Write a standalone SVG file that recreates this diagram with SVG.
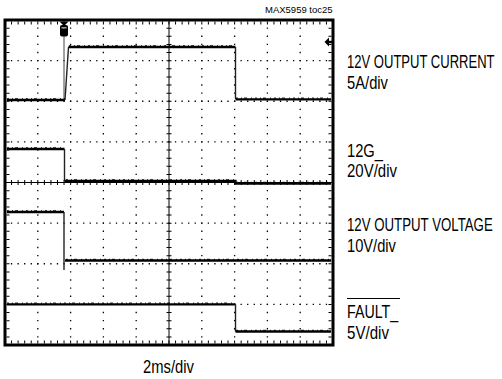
<svg xmlns="http://www.w3.org/2000/svg" width="502" height="379" viewBox="0 0 502 379">
<style>
.frame{fill:none;stroke:#000;stroke-width:3}
.hdot{stroke:#000;stroke-width:1.3;stroke-dasharray:1.3 5.26;stroke-dashoffset:0.65}
.vdot{stroke:#000;stroke-width:1.3;stroke-dasharray:1.3 6.825;stroke-dashoffset:0.65}
.axis{stroke:#000;stroke-width:1}
.htick{stroke:#000;stroke-dasharray:1 5.56;stroke-dashoffset:0.5}
.vtick{stroke:#000;stroke-dasharray:1 7.125;stroke-dashoffset:0.5}
.tr{fill:none;stroke:#000;stroke-width:2.3;stroke-linejoin:miter}
.rough{fill:none;stroke:#000;stroke-width:1;stroke-dasharray:2 3 1 2 3 4 1 3}
.edge{fill:none;stroke:#222;stroke-width:1.4}
.lbl{font-family:"Liberation Sans",Arial,sans-serif;font-size:17.5px;fill:#000}
.small{font-family:"Liberation Sans",Arial,sans-serif;font-size:9.5px;fill:#000}
</style>
<rect width="502" height="379" fill="#fff"/>
<g id="grid">
<g class="hdot">
<line x1="5" y1="60.6" x2="333" y2="60.6"/>
<line x1="5" y1="101.25" x2="333" y2="101.25"/>
<line x1="5" y1="141.9" x2="333" y2="141.9"/>
<line x1="5" y1="223.1" x2="333" y2="223.1"/>
<line x1="5" y1="263.75" x2="333" y2="263.75"/>
<line x1="5" y1="304.4" x2="333" y2="304.4"/>
</g>
<g class="vdot">
<line x1="37.8" y1="20" x2="37.8" y2="345"/>
<line x1="70.6" y1="20" x2="70.6" y2="345"/>
<line x1="103.4" y1="20" x2="103.4" y2="345"/>
<line x1="136.2" y1="20" x2="136.2" y2="345"/>
<line x1="201.8" y1="20" x2="201.8" y2="345"/>
<line x1="234.6" y1="20" x2="234.6" y2="345"/>
<line x1="267.4" y1="20" x2="267.4" y2="345"/>
<line x1="300.2" y1="20" x2="300.2" y2="345"/>
</g>
<line class="axis" x1="5" y1="182.5" x2="333" y2="182.5"/>
<line class="axis" x1="169" y1="20" x2="169" y2="345"/>
<line class="htick" x1="5" y1="182.5" x2="333" y2="182.5" stroke-width="5"/>
<line class="vtick" x1="169" y1="20" x2="169" y2="345" stroke-width="5"/>
<line class="htick" x1="5" y1="23" x2="333" y2="23" stroke-width="3"/>
<line class="htick" x1="5" y1="342" x2="333" y2="342" stroke-width="3"/>
<line class="vtick" x1="8" y1="20" x2="8" y2="345" stroke-width="3"/>
<line class="vtick" x1="330" y1="20" x2="330" y2="345" stroke-width="3"/>
<rect class="frame" x="5" y="20" width="328" height="325"/>
</g>
<g id="markers">
<polygon points="59.5,21.5 68.5,21.5 64,26" fill="#000"/>
<rect x="60" y="25" width="8" height="11.5" rx="2" fill="#000"/>
<rect x="61.5" y="27" width="5" height="1.6" fill="#999"/>
<line x1="64" y1="36" x2="64" y2="100" stroke="#444" stroke-width="1"/>
<polygon points="324.5,42 329,37.5 329,46.5" fill="#000"/>
<rect x="329" y="40.8" width="3" height="2.4" fill="#000"/>
</g>
<g id="traces">
<g id="trace-current">
<path class="tr" d="M7,100 H65"/>
<path class="edge" d="M65,100 L68.5,47"/>
<path class="tr" d="M68.5,47 H235.5"/>
<path class="edge" d="M235.5,47 V99"/>
<path class="tr" d="M235.5,99.3 H331"/>
<path class="rough" d="M7,98.8 H65 M69,45.8 H235 M236,98.1 H331"/>
</g>
<g id="trace-12g">
<path class="tr" d="M7,149 H64.5"/>
<path class="edge" d="M64.5,149 V181"/>
<path class="tr" d="M64.5,181 H235.5 V183.5 H331"/>
<path class="rough" d="M7,147.8 H64 M66,179.8 H235 M236,182.3 H331"/>
</g>
<g id="trace-vout">
<path class="tr" d="M7,212 H64"/>
<path class="edge" d="M64,212 V270"/>
<path class="tr" d="M65,260.5 H331"/>
<path class="rough" d="M7,210.8 H64 M66,259.3 H331"/>
</g>
<g id="trace-fault">
<path class="tr" d="M7,304.3 H235.5"/>
<path class="edge" d="M235.5,304.3 V331.5"/>
<path class="tr" d="M235.5,331.5 H331"/>
<path class="rough" d="M7,303.1 H235 M236,330.3 H331"/>
</g>
</g>
<g id="labels">
<text class="small" x="265" y="13">MAX5959 toc25</text>
<text class="lbl" transform="translate(347,68) scale(0.746,1)">12V OUTPUT CURRENT</text>
<text class="lbl" transform="translate(347,89) scale(0.843,1)">5A/div</text>
<text class="lbl" transform="translate(347,157) scale(0.841,1)">12G_</text>
<text class="lbl" transform="translate(347,177) scale(0.857,1)">20V/div</text>
<text class="lbl" transform="translate(347,231) scale(0.757,1)">12V OUTPUT VOLTAGE</text>
<text class="lbl" transform="translate(347,252) scale(0.839,1)">10V/div</text>
<line x1="347" y1="298.5" x2="400" y2="298.5" stroke="#000" stroke-width="1"/>
<text class="lbl" transform="translate(347,318) scale(0.813,1)">FAULT_</text>
<text class="lbl" transform="translate(347,338.5) scale(0.864,1)">5V/div</text>
<text class="lbl" transform="translate(143,373) scale(0.846,1)">2ms/div</text>
</g>
</svg>
